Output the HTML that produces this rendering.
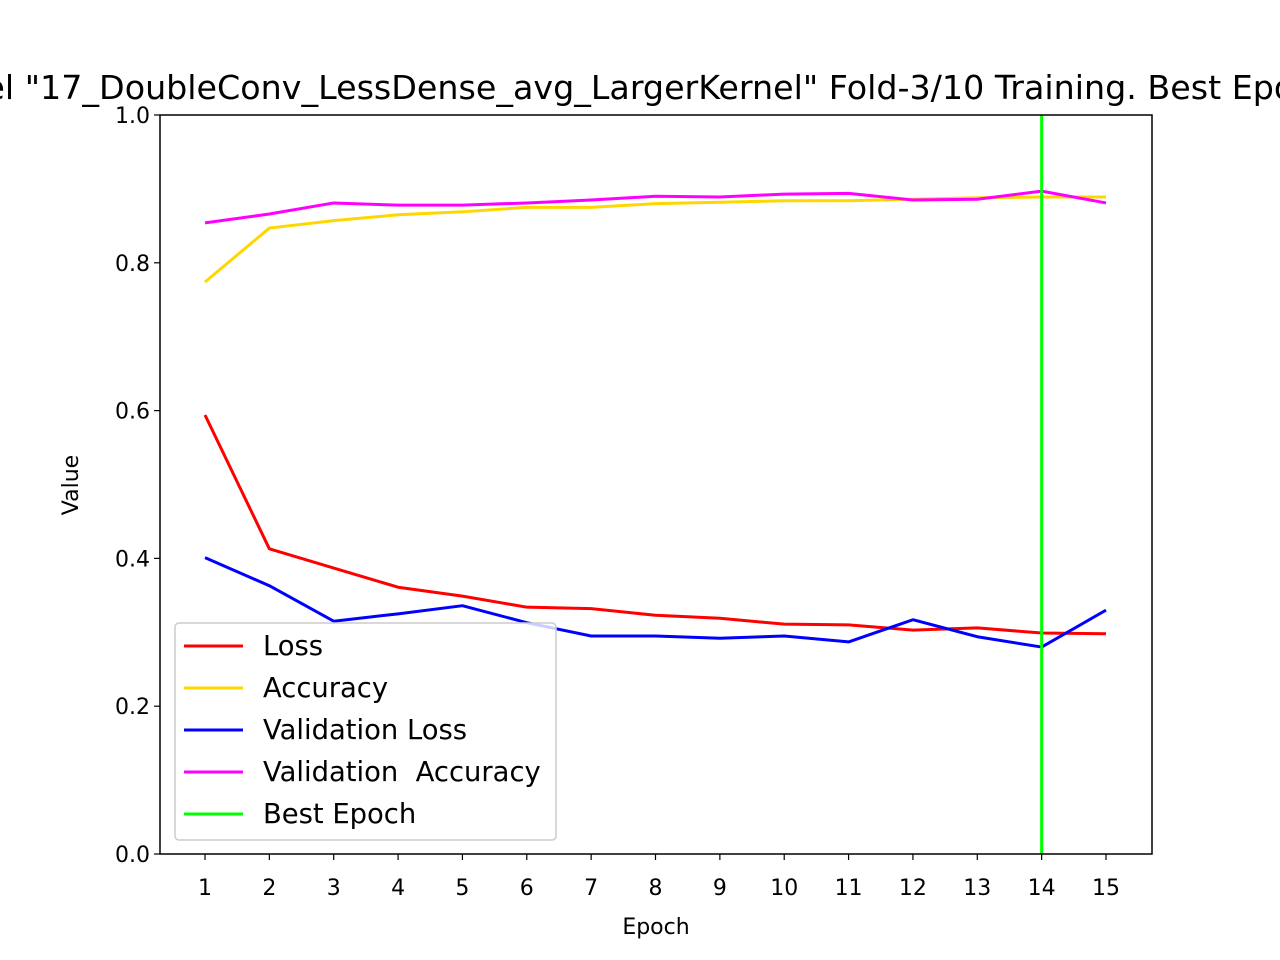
<!DOCTYPE html>
<html><head><meta charset="utf-8"><style>body{margin:0;background:#fff;overflow:hidden}svg{display:block;font-family:"DejaVu Sans","Liberation Sans",sans-serif}</style></head>
<body>
<svg id="c" width="1280" height="960"></svg>
<script>
const epochs=[1,2,3,4,5,6,7,8,9,10,11,12,13,14,15];
const loss=[0.594,0.413,0.387,0.361,0.349,0.334,0.332,0.323,0.319,0.311,0.310,0.303,0.306,0.299,0.298];
const accuracy=[0.774,0.847,0.857,0.865,0.869,0.875,0.875,0.880,0.882,0.884,0.884,0.886,0.888,0.889,0.889];
const valLoss=[0.401,0.363,0.315,0.325,0.336,0.313,0.295,0.295,0.292,0.295,0.287,0.317,0.294,0.280,0.330];
const valAccuracy=[0.854,0.866,0.881,0.878,0.878,0.881,0.885,0.890,0.889,0.893,0.894,0.885,0.886,0.897,0.881];
const bestEpoch=14;
const yTicks=[0.0,0.2,0.4,0.6,0.8,1.0];
const L=160,R=1152,T=115,B=854;
const X=e=>205+(e-1)*(1106-205)/14;
const Y=v=>B-v*(B-T);
const svg=document.getElementById('c');
const NS='http://www.w3.org/2000/svg';
function mk(t,a,txt){const e=document.createElementNS(NS,t);for(const k in a)e.setAttribute(k,a[k]);if(txt!==undefined)e.textContent=txt;svg.appendChild(e);return e;}
let t=mk('text',{x:656,y:99,'font-size':33.3,'text-anchor':'middle'},'Model "17_DoubleConv_LessDense_avg_LargerKernel" Fold-3/10 Training. Best Epoch: 14');


epochs.forEach(e=>{
 let l=mk('line',{x1:X(e),x2:X(e),y1:B,y2:B+6,stroke:'#000','stroke-width':1.2});
 
 
 let tx=mk('text',{x:X(e),y:B+41,'font-size':22,'text-anchor':'middle'},String(e));
 
 
});
yTicks.forEach(v=>{
 let l=mk('line',{x1:L-6,x2:L,y1:Y(v),y2:Y(v),stroke:'#000','stroke-width':1.2});
 
 
 let tx=mk('text',{x:L-10,y:Y(v)+8,'font-size':22,'text-anchor':'end'},v.toFixed(1));
 
 
});
let xl=mk('text',{x:656,y:934,'font-size':22,'text-anchor':'middle'},'Epoch');


let yl=mk('text',{x:0,y:0,'font-size':22,'text-anchor':'middle',transform:'translate(78,485) rotate(-90)'},'Value');


const series=[[loss,'#ff0000','loss-line'],[accuracy,'#ffd700','accuracy-line'],[valLoss,'#0000ff','validation-loss-line'],[valAccuracy,'#ff00ff','validation-accuracy-line']];
series.forEach(s=>{
 let p=mk('polyline',{points:epochs.map((e,i)=>X(e)+','+Y(s[0][i])).join(' '),fill:'none',stroke:s[1],'stroke-width':3,'stroke-linejoin':'round'});
 
 
});
let be=mk('line',{x1:X(bestEpoch),x2:X(bestEpoch),y1:T,y2:B,stroke:'#00ff00','stroke-width':3});


let fr=mk('rect',{x:L,y:T,width:R-L,height:B-T,fill:'none',stroke:'#000','stroke-width':1.5});


let lg=mk('rect',{x:175,y:623,width:381,height:217,rx:4,fill:'rgba(255,255,255,0.8)',stroke:'#ccc','stroke-width':1.5});


const legendLabels=['Loss','Accuracy','Validation Loss','Validation  Accuracy','Best Epoch'];
const legendColors=['#ff0000','#ffd700','#0000ff','#ff00ff','#00ff00'];
legendLabels.forEach((lab,i)=>{
 const y=646+i*42;
 let l=mk('line',{x1:184,x2:243,y1:y,y2:y,stroke:legendColors[i],'stroke-width':3});
 
 
 let tx=mk('text',{x:263,y:y+9,'font-size':27.4,'xml:space':'preserve'},lab);
 tx.setAttribute('style','white-space:pre');
 
 
});
</script>
</body></html>
